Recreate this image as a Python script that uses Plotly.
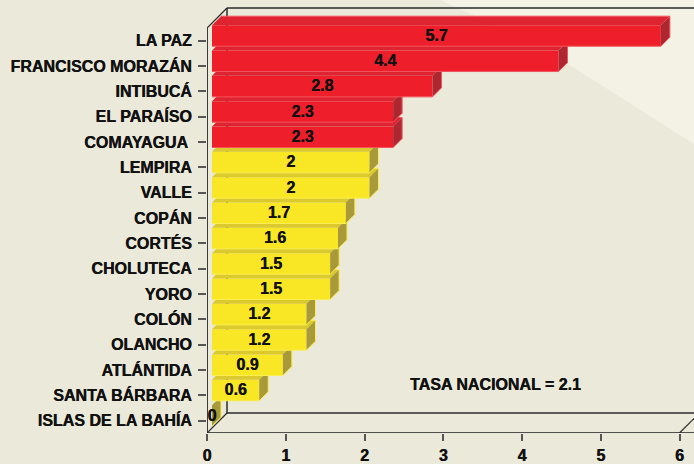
"""Tasa por departamento: 3D-looking horizontal bars built on a flat plotly axis."""

import plotly.graph_objects as go

DEPARTMENTS = [
    "LA PAZ",
    "FRANCISCO MORAZÁN",
    "INTIBUCÁ",
    "EL PARAÍSO",
    "COMAYAGUA ",
    "LEMPIRA",
    "VALLE",
    "COPÁN",
    "CORTÉS",
    "CHOLUTECA",
    "YORO",
    "COLÓN",
    "OLANCHO",
    "ATLÁNTIDA",
    "SANTA BÁRBARA",
    "ISLAS DE LA BAHÍA",
]
RATES = [5.7, 4.4, 2.8, 2.3, 2.3, 2, 2, 1.7, 1.6, 1.5, 1.5, 1.2, 1.2, 0.9, 0.6, 0]
RATE_LABELS = ["5.7", "4.4", "2.8", "2.3", "2.3", "2", "2", "1.7", "1.6", "1.5", "1.5", "1.2", "1.2", "0.9", "0.6", "0"]
X_TICKS = [0, 1, 2, 3, 4, 5, 6]
NATIONAL_NOTE = "TASA NACIONAL = 2.1"
N_RED = 5  # first five departments are above the national rate

BG = "#ebe9d9"
BG_LIGHT = "#f4f1e5"
INK = "#111111"
HEAVY = "0.35px 0 0 #111111"  # Liberation bold renders a bit lighter than the original
RED = {"front": "#ee1f2b", "top": "#dd2430", "side": "#ad2730", "edge": "#f4545c"}
YELLOW = {"front": "#f9e725", "top": "#dcc92b", "side": "#a89a38", "edge": "#fbee55"}

# pixel scale of the plot area, everything below hangs off these
W, H = 694, 464
LEFT, BOTTOM = 207, 433
PX_X = 78.75  # px per x unit
PX_Y = 25.33  # px per category
FIRST_TICK_PX = 40.7

x_range = [0, (W - LEFT) / PX_X]
y_range = [(BOTTOM - FIRST_TICK_PX) / PX_Y, -FIRST_TICK_PX / PX_Y]

# 3D offsets, converted to data units
BOX_DX, BOX_DY = 20 / PX_X, 20 / PX_Y
BAR_X0 = 5 / PX_X
BAR_DX, BAR_DY = 9 / PX_X, 9 / PX_Y
BAR_H = 21 / PX_Y
BAR_SHIFT = -5 / PX_Y
LABEL_SHIFT = -4 / PX_Y

Y_BOTTOM = y_range[0]
Y_TOP_AXIS = Y_BOTTOM - 405 / PX_Y
X_OFF = x_range[1] + 1

fig = go.Figure()

# box edges: (xs, ys, width, colour)
edges = [
    ([0, 0], [Y_TOP_AXIS, Y_BOTTOM], 2, "#3c3c38"),
    ([0, X_OFF], [Y_BOTTOM, Y_BOTTOM], 1.5, "#1c1c1c"),
    ([0, BOX_DX], [Y_TOP_AXIS, Y_TOP_AXIS - BOX_DY], 1.2, "#2a2a2a"),
    ([BOX_DX, X_OFF], [Y_TOP_AXIS - BOX_DY, Y_TOP_AXIS - BOX_DY], 1.5, "#2a2a2a"),
    ([BOX_DX, BOX_DX], [Y_TOP_AXIS - BOX_DY, Y_BOTTOM - BOX_DY], 1.5, "#2a2a2a"),
    ([BOX_DX, X_OFF], [Y_BOTTOM - BOX_DY, Y_BOTTOM - BOX_DY], 1.5, "#2a2a2a"),
    ([0, BOX_DX], [Y_BOTTOM, Y_BOTTOM - BOX_DY], 1.2, "#2a2a2a"),
    ([6, 6 + BOX_DX], [Y_BOTTOM, Y_BOTTOM - BOX_DY], 1.2, "#2a2a2a"),
]
for xs, ys, width, color in edges:
    fig.add_trace(
        go.Scatter(
            x=xs,
            y=ys,
            mode="lines",
            line={"color": color, "width": width},
            hoverinfo="skip",
            showlegend=False,
            zorder=0,
        )
    )

# lowest bar first, each upper bar covers the top face of the one below
for i in range(len(RATES) - 1, -1, -1):
    value = RATES[i]
    colors = RED if i < N_RED else YELLOW
    z = len(RATES) - i
    y_top = i + BAR_SHIFT - BAR_H / 2
    y_bot = i + BAR_SHIFT + BAR_H / 2
    x_end = BAR_X0 + value

    fig.add_trace(
        go.Bar(
            x=[value],
            y=[i],
            base=BAR_X0,
            orientation="h",
            width=BAR_H,
            offset=BAR_SHIFT - BAR_H / 2,
            marker={"color": colors["front"], "line": {"width": 0}},
            hovertemplate=f"{DEPARTMENTS[i]}: {RATE_LABELS[i]}<extra></extra>",
            showlegend=False,
            zorder=z,
        )
    )
    fig.add_trace(
        go.Scatter(
            x=[BAR_X0, BAR_X0 + BAR_DX, x_end + BAR_DX, x_end, BAR_X0],
            y=[y_top, y_top - BAR_DY, y_top - BAR_DY, y_top, y_top],
            mode="lines",
            fill="toself",
            fillcolor=colors["top"],
            line={"width": 0},
            hoverinfo="skip",
            showlegend=False,
            zorder=z,
        )
    )
    fig.add_trace(
        go.Scatter(
            x=[x_end, x_end + BAR_DX, x_end + BAR_DX, x_end, x_end],
            y=[y_top, y_top - BAR_DY, y_bot - BAR_DY, y_bot, y_top],
            mode="lines",
            fill="toself",
            fillcolor=colors["side"],
            line={"width": 0},
            hoverinfo="skip",
            showlegend=False,
            zorder=z,
        )
    )
    # thin highlight along the back and bottom edges
    fig.add_trace(
        go.Scatter(
            x=[BAR_X0 + BAR_DX, x_end + BAR_DX, x_end + BAR_DX, x_end, BAR_X0],
            y=[y_top - BAR_DY, y_top - BAR_DY, y_bot - BAR_DY, y_bot, y_bot],
            mode="lines",
            line={"color": colors["edge"], "width": 1},
            hoverinfo="skip",
            showlegend=False,
            zorder=z,
        )
    )

fig.add_trace(
    go.Scatter(
        x=[BAR_X0 + v / 2 for v in RATES],
        y=[i + LABEL_SHIFT for i in range(len(RATES))],
        mode="text",
        text=RATE_LABELS,
        textposition="middle center",
        textfont={"family": "Liberation Sans", "size": 16, "color": INK, "weight": "bold", "shadow": HEAVY},
        hoverinfo="skip",
        showlegend=False,
        zorder=100,
    )
)

fig.add_annotation(
    x=3.66,
    y=13.57,
    text=f"<b>{NATIONAL_NOTE}</b>",
    showarrow=False,
    font={"family": "Liberation Sans", "size": 16, "color": INK, "shadow": HEAVY},
)

axis_font = {"family": "Liberation Sans", "size": 16, "color": INK, "weight": "bold", "shadow": HEAVY}
fig.update_layout(
    width=W,
    height=H,
    margin={"l": LEFT, "r": 0, "t": 0, "b": H - BOTTOM, "autoexpand": False},
    paper_bgcolor=BG,
    plot_bgcolor="rgba(0,0,0,0)",
    barmode="overlay",
    showlegend=False,
    xaxis={
        "range": x_range,
        "tickvals": X_TICKS,
        "ticks": "outside",
        "ticklen": 7,
        "tickwidth": 1.5,
        "tickcolor": "#555555",
        "tickfont": axis_font,
        "ticklabelstandoff": 1,
        "showgrid": False,
        "zeroline": False,
        "showline": False,
    },
    yaxis={
        "range": y_range,
        "tickvals": list(range(len(DEPARTMENTS))),
        "ticktext": DEPARTMENTS,
        "ticks": "outside",
        "ticklen": 8,
        "tickwidth": 1.5,
        "tickcolor": "#555555",
        "tickfont": axis_font,
        "ticklabelstandoff": 3,
        "showgrid": False,
        "zeroline": False,
        "showline": False,
    },
)

# light wedge, placed in paper fractions from its pixel corners
wedge = [(440, 0), (475, 16), (568, 64), (694, 144), (694, 0)]
plot_w, plot_h = W - LEFT, BOTTOM
points = [((px - LEFT) / plot_w, 1 - py / plot_h) for px, py in wedge]
fig.add_shape(
    type="path",
    path="M " + " L ".join(f"{a:.4f} {b:.4f}" for a, b in points) + " Z",
    xref="paper",
    yref="paper",
    line_width=0,
    fillcolor=BG_LIGHT,
    layer="below",
)

fig.write_html(
    "out.html",
    config={"displayModeBar": False},
    post_script="document.body.style.margin = '0';",
)
